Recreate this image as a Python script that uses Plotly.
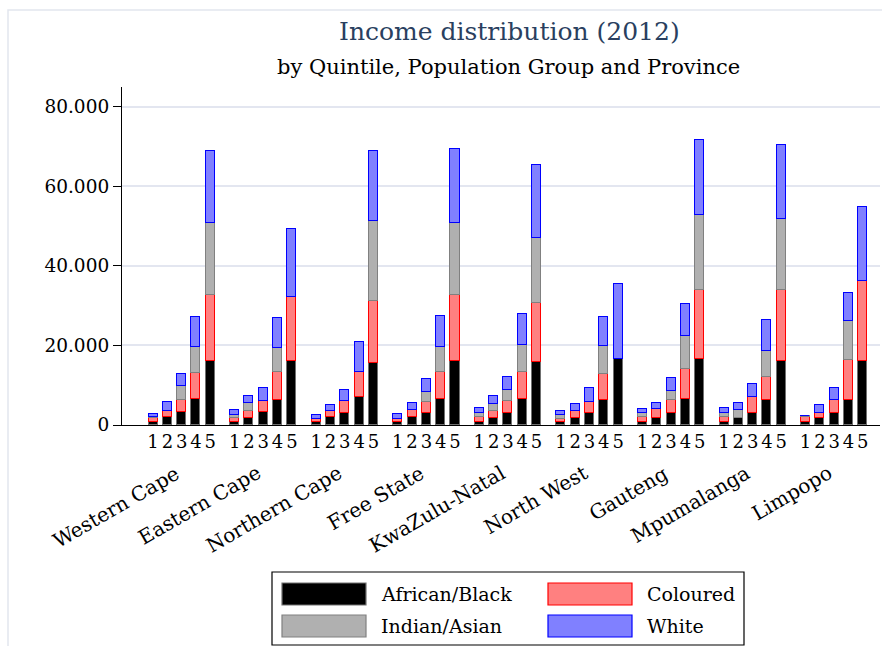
import plotly.graph_objects as go

provinces = ["Western Cape", "Eastern Cape", "Northern Cape", "Free State",
             "KwaZulu-Natal", "North West", "Gauteng", "Mpumalanga", "Limpopo"]
quintiles = ["1", "2", "3", "4", "5"]

# Income per quintile, one list of five quintiles per province
african_black = [
    [800, 1900, 3200, 6500, 16200],
    [800, 1800, 3200, 6400, 16100],
    [800, 1900, 3100, 7000, 15600],
    [800, 1900, 3100, 6500, 16200],
    [800, 1800, 3000, 6600, 15900],
    [800, 1800, 3000, 6400, 16600],
    [800, 1800, 3000, 6500, 16600],
    [800, 1800, 3000, 6400, 16000],
    [800, 1800, 3000, 6400, 16100],
]
coloured = [
    [900, 1700, 3200, 6600, 16500],
    [900, 1700, 2900, 6900, 16100],
    [800, 1500, 3000, 6300, 15600],
    [800, 1900, 2700, 6900, 16500],
    [1200, 1700, 3100, 6700, 14900],
    [700, 1700, 2900, 6500, 0],
    [1100, 2100, 3200, 7600, 17300],
    [1200, 0, 4100, 5700, 17900],
    [1200, 1200, 3400, 9900, 20000],
]
indian_asian = [
    [300, 0, 3300, 6400, 18100],
    [800, 2000, 0, 6100, 0],
    [0, 0, 0, 0, 20100],
    [0, 0, 2400, 6200, 18100],
    [1100, 1900, 2800, 6900, 16300],
    [1100, 0, 0, 7000, 0],
    [1200, 0, 2400, 8300, 18900],
    [1000, 1900, 0, 6500, 17900],
    [200, 0, 0, 9900, 0],
]
white = [
    [800, 2100, 3100, 7600, 18100],
    [1200, 1900, 3100, 7600, 17200],
    [800, 1600, 2800, 7500, 17700],
    [1100, 1700, 3300, 7800, 18700],
    [1200, 1800, 3100, 7600, 18200],
    [1000, 1900, 3300, 7300, 18900],
    [1000, 1700, 3200, 8000, 18800],
    [1400, 1900, 3200, 7800, 18600],
    [0, 2000, 3000, 7100, 18700],
]
y_ticks = [0, 20000, 40000, 60000, 80000]

FONT = "DejaVu Serif"
GROUP_STEP = 5.7  # distance between province groups, in bar slots

xs, xtext = [], []
for g in range(len(provinces)):
    for q, lab in enumerate(quintiles):
        xs.append(g * GROUP_STEP + q)
        xtext.append(lab)

def flat(rows):
    return [v for row in rows for v in row]

series = [
    ("African/Black", african_black, "#000000", "#707070"),
    ("Coloured", coloured, "#ff8080", "#ff0000"),
    ("Indian/Asian", indian_asian, "#b0b0b0", "#808080"),
    ("White", white, "#8080ff", "#0000ff"),
]

fig = go.Figure()
for name, rows, fill, edge in series:
    fig.add_trace(go.Bar(
        x=xs, y=flat(rows), name=name, width=0.63,
        marker=dict(color=fill, line=dict(color=edge, width=1.2)),
        showlegend=False,
    ))

# plot area in pixels
L, R, T, B = 122, 880, 87, 425
W, H = 882, 646

def px(xp):
    return (xp - L) / (R - L)

def py(yp):
    return (B - yp) / (B - T)

annotations = []
shapes = []

# Titles
annotations.append(dict(text="Income distribution (2012)", x=px(509), y=py(31),
                        xref="paper", yref="paper", showarrow=False,
                        xanchor="center", yanchor="middle",
                        font=dict(family=FONT, size=25, color="#2a3f5f")))
annotations.append(dict(text="by Quintile, Population Group and Province",
                        x=px(508), y=py(67), xref="paper", yref="paper",
                        showarrow=False, xanchor="center", yanchor="middle",
                        font=dict(family=FONT, size=21, color="#000")))

# Province labels, rotated under each group
for g, prov in enumerate(provinces):
    annotations.append(dict(text=prov, x=g * GROUP_STEP + 2.3, y=0,
                            xref="x", yref="y", yshift=-33, showarrow=False,
                            xanchor="right", yanchor="top", textangle=-30,
                            font=dict(family=FONT, size=20, color="#000")))

# Legend drawn as a box with swatches
shapes.append(dict(type="rect", xref="paper", yref="paper",
                   x0=px(272), x1=px(744), y0=py(572), y1=py(645),
                   line=dict(color="#000", width=1.2), fillcolor="white"))
slots = [(282, 583), (548, 583), (282, 615), (548, 615)]
for (name, _, fill, edge), (sx, sy) in zip(series, slots):
    shapes.append(dict(type="rect", xref="paper", yref="paper",
                       x0=px(sx), x1=px(sx + 84), y0=py(sy), y1=py(sy + 22),
                       line=dict(color=edge, width=1.2), fillcolor=fill))
    annotations.append(dict(text=name, x=px(sx + 97), y=py(sy + 11),
                            xref="paper", yref="paper", showarrow=False,
                            xanchor="left", yanchor="middle",
                            font=dict(family=FONT, size=19, color="#000")))

# faint page frame
shapes.append(dict(type="rect", xref="paper", yref="paper", layer="below",
                   x0=px(8), x1=px(900), y0=py(10), y1=py(700),
                   line=dict(color="#e2e6ee", width=1.5)))

fig.update_layout(
    width=W, height=H, barmode="stack",
    margin=dict(l=L, r=W - R, t=T, b=H - B),
    paper_bgcolor="white", plot_bgcolor="white",
    separators=",.",
    font=dict(family=FONT, size=18, color="#000"),
    annotations=annotations, shapes=shapes,
    bargap=0,
)
fig.update_xaxes(range=[-2.17, 8 * GROUP_STEP + 4 + 1.2], tickvals=xs, ticktext=xtext,
                 showgrid=False, showline=True, linecolor="#000", linewidth=1.2,
                 ticks="", tickangle=0, zeroline=False,
                 tickfont=dict(family=FONT, size=18, color="#000"))
fig.update_yaxes(range=[0, 85000], tickvals=y_ticks, tickformat=",d",
                 showgrid=True, gridcolor="#e3e6f0", gridwidth=1.5,
                 showline=True, linecolor="#000", linewidth=1.2,
                 ticks="outside", ticklen=8, tickcolor="#000", zeroline=False,
                 tickfont=dict(family=FONT, size=18.5, color="#000"))

fig.write_html("out.html")
